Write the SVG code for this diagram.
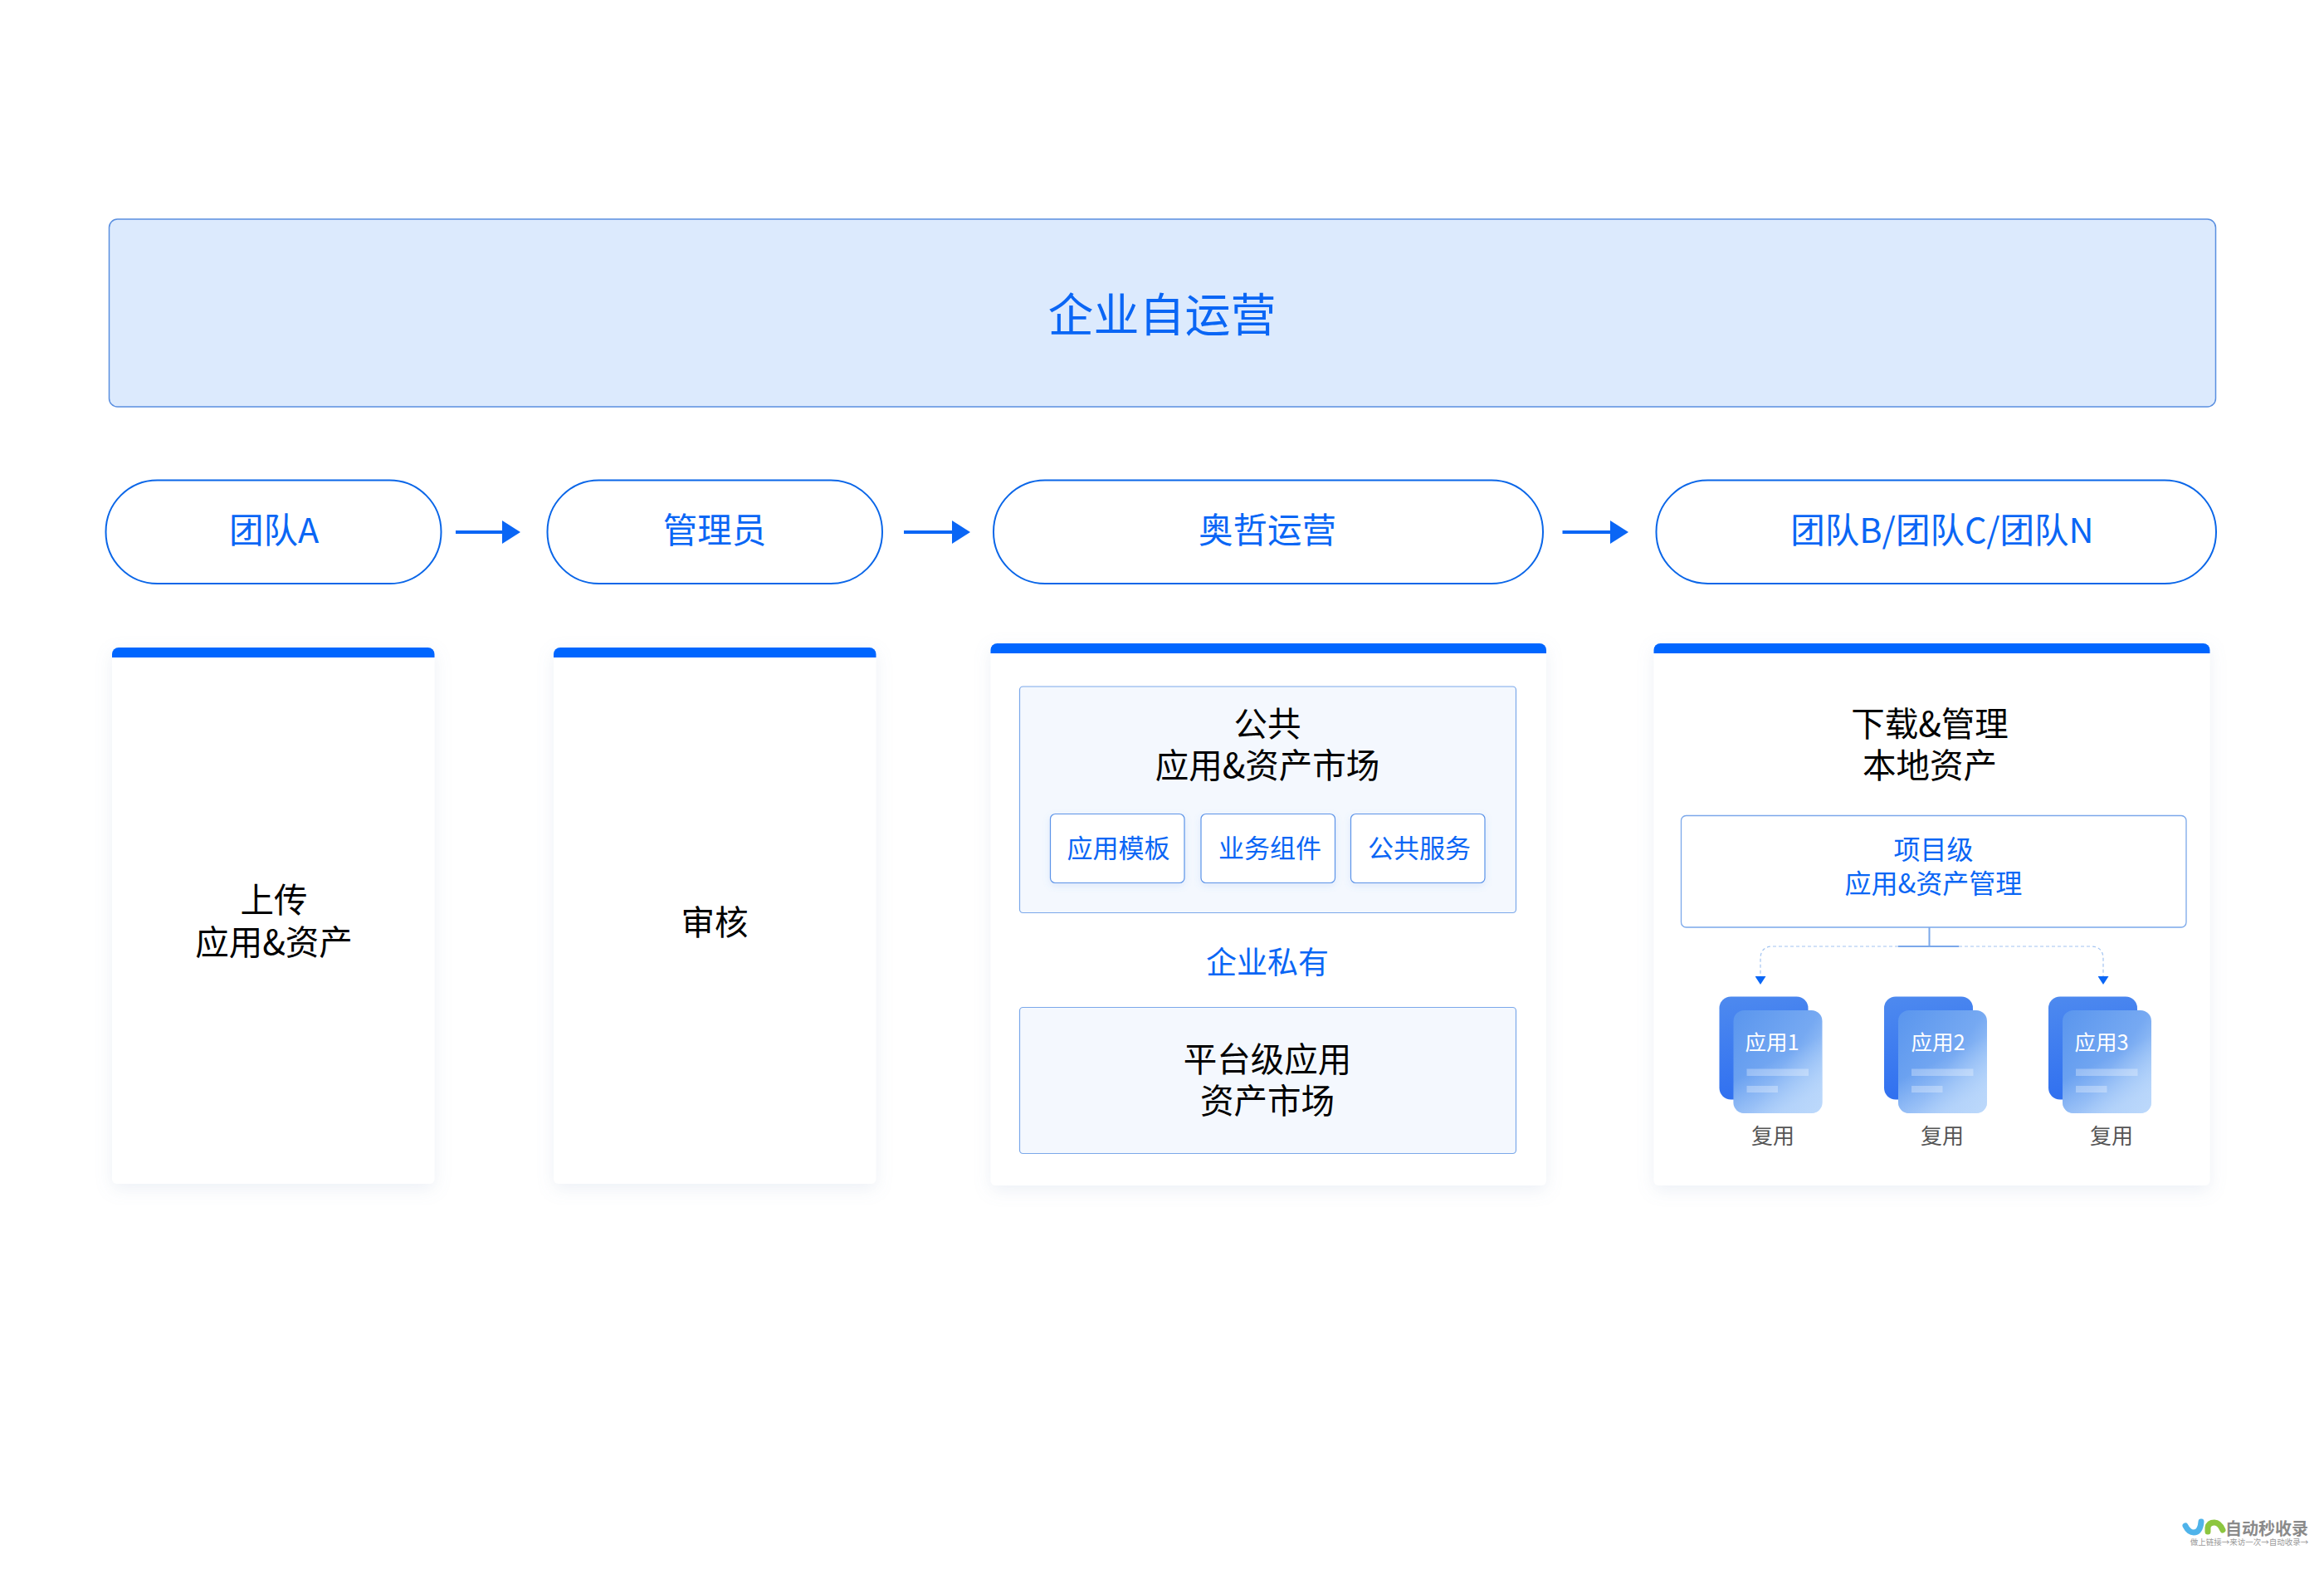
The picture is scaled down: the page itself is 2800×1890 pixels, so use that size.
<svg xmlns="http://www.w3.org/2000/svg" width="2800" height="1890" viewBox="0 0 2800 1890">
<style>
text{font-family:"Noto Sans CJK SC","Noto Sans",sans-serif;text-anchor:middle}
.blue{fill:#0a66f5}
.black{fill:#000}
.f40{font-size:40.500px}
.f42{font-size:41.500px}
.f32{font-size:32px}
.f31{font-size:31px}
.pill{fill:#fff;stroke:#0a66e8;stroke-width:2}
.card{fill:#fff;filter:url(#cardShadow)}
.bar{fill:#0066ff}
.panel{fill:#f4f8fe;stroke:#7ba8ea;stroke-width:1.2}
.chip{fill:#fff;stroke:#5b93e8;stroke-width:1.2;filter:url(#chipShadow)}
.flow{stroke:#0a66f5;stroke-width:4;fill:none;marker-end:url(#arrow)}
.dash{stroke:#a3c4f1;stroke-width:1.2;stroke-dasharray:4 3;fill:none;marker-end:url(#tip)}
.solid{stroke:#7ba8ea;stroke-width:2;fill:none}
.docLabel{font-size:25.500px;fill:#fff}
.reuse{font-size:26px;fill:#555}
</style>
<defs>
<filter id="cardShadow" x="-15%" y="-10%" width="130%" height="120%"><feDropShadow dx="0" dy="6" stdDeviation="10" flood-color="#8fa3c8" flood-opacity="0.16"/></filter>
<filter id="chipShadow" x="-15%" y="-15%" width="130%" height="140%"><feDropShadow dx="0" dy="3" stdDeviation="4" flood-color="#5b93e8" flood-opacity="0.15"/></filter>
<marker id="arrow" markerUnits="userSpaceOnUse" markerWidth="22" markerHeight="28" viewBox="0 0 22 28" refX="0" refY="14" orient="auto"><path d="M0 0L22 14L0 28Z" fill="#0a66f5"/></marker>
<marker id="tip" markerUnits="userSpaceOnUse" markerWidth="10" markerHeight="13" viewBox="0 0 10 13" refX="0" refY="6.500" orient="auto"><path d="M0 0L10 6.500L0 13Z" fill="#0a66f5"/></marker>
<linearGradient id="backGrad" x1="0.2" y1="0" x2="0.4" y2="1"><stop offset="0" stop-color="#4d89ef"/><stop offset="1" stop-color="#2f6ff0"/></linearGradient>
<linearGradient id="frontGrad" x1="0" y1="0.1" x2="1" y2="0.9"><stop offset="0" stop-color="#5c97ee"/><stop offset="0.55" stop-color="#76a9f2"/><stop offset="1" stop-color="#b9d8fb"/></linearGradient>
<linearGradient id="frontGlow" x1="0.3" y1="0.55" x2="0.5" y2="1"><stop offset="0" stop-color="#bcd8fb" stop-opacity="0"/><stop offset="1" stop-color="#bcd8fb" stop-opacity="0.75"/></linearGradient>
<g id="docShape">
<rect x="2071.500" y="1200.500" width="107" height="124" rx="14" fill="url(#backGrad)"/>
<rect x="2088.500" y="1217" width="107" height="124" rx="13" fill="url(#frontGrad)"/>
<rect x="2088.500" y="1217" width="107" height="124" rx="13" fill="url(#frontGlow)"/>
<rect x="2104.500" y="1287.500" width="74.500" height="8.500" fill="#fff" fill-opacity="0.3"/>
<rect x="2104.500" y="1308" width="37.500" height="8" fill="#fff" fill-opacity="0.3"/>
</g>
</defs>
<rect width="2800" height="1890" fill="#fff"/>

<g id="banner">
<rect x="131.500" y="264" width="2538" height="226" rx="10" fill="#dceafd" stroke="#5a8fe0" stroke-width="1.500"/>
<text x="1400" y="399" class="blue" style="font-size:55px">企业自运营</text>
</g>

<g id="pill-a"><rect class="pill" x="127.500" y="578.500" width="404" height="124.500" rx="62"/><text x="330" y="654" class="blue f42">团队A</text></g>
<g id="pill-admin"><rect class="pill" x="659.500" y="578.500" width="403.500" height="124.500" rx="62"/><text x="861" y="654" class="blue f42">管理员</text></g>
<g id="pill-ops"><rect class="pill" x="1197" y="578.500" width="662" height="124.500" rx="62"/><text x="1527" y="654" class="blue f42">奥哲运营</text></g>
<g id="pill-teams"><rect class="pill" x="1995.500" y="578.500" width="674.500" height="124.500" rx="62"/><text x="2340" y="654" class="blue f42">团队B/团队C/团队N</text></g>

<g id="card-upload">
<rect class="card" x="135" y="780" width="388.500" height="646" rx="6"/>
<path class="bar" d="M135 792V788a8 8 0 0 1 8-8H515.500a8 8 0 0 1 8 8V792Z"/>
<text x="330" y="1099" class="black f40">上传</text>
<text x="330" y="1150" class="black f40">应用&amp;资产</text>
</g>
<g id="card-review">
<rect class="card" x="667" y="780" width="388.500" height="646" rx="6"/>
<path class="bar" d="M667 792V788a8 8 0 0 1 8-8H1047.500a8 8 0 0 1 8 8V792Z"/>
<text x="861" y="1126" class="black f40">审核</text>
</g>

<g id="card-ops">
<rect class="card" x="1193.500" y="775" width="669.500" height="653" rx="6"/>
<path class="bar" d="M1193.500 787V783a8 8 0 0 1 8-8H1855a8 8 0 0 1 8 8V787Z"/>
</g>
<g id="public-market">
<rect class="panel" x="1228.500" y="827" width="598" height="272.500" rx="4"/>
<text x="1527" y="887" class="black f40">公共</text>
<text x="1527" y="937" class="black f40">应用&amp;资产市场</text>
</g>
<g id="chip-template"><rect class="chip" x="1265.500" y="980.500" width="161.500" height="83" rx="6"/><text x="1347.500" y="1033" class="blue f31">应用模板</text></g>
<g id="chip-component"><rect class="chip" x="1447" y="980.500" width="161.500" height="83" rx="6"/><text x="1530" y="1033" class="blue f31">业务组件</text></g>
<g id="chip-service"><rect class="chip" x="1627.500" y="980.500" width="161.500" height="83" rx="6"/><text x="1710" y="1033" class="blue f31">公共服务</text></g>
<g id="private-label"><text x="1527" y="1172.500" class="blue" style="font-size:37px">企业私有</text></g>
<g id="private-market">
<rect class="panel" x="1228.500" y="1213.500" width="598" height="176" rx="4"/>
<text x="1527" y="1291" class="black f40">平台级应用</text>
<text x="1527" y="1341" class="black f40">资产市场</text>
</g>

<g id="card-teams">
<rect class="card" x="1992.500" y="775" width="670" height="653" rx="6"/>
<path class="bar" d="M1992.500 787V783a8 8 0 0 1 8-8H2654.500a8 8 0 0 1 8 8V787Z"/>
<text x="2325" y="887" class="black f40">下载&amp;管理</text>
<text x="2325" y="937" class="black f40">本地资产</text>
</g>
<g id="project-box">
<rect x="2025.500" y="982.500" width="608.500" height="134.500" rx="6" fill="#fff" stroke="#7ba8ea" stroke-width="1.300"/>
<text x="2329.500" y="1035" class="blue f32">项目级</text>
<text x="2329.500" y="1075.500" class="blue f32">应用&amp;资产管理</text>
</g>

<g id="doc-1"><use href="#docShape"/><text x="2135" y="1265" class="docLabel">应用1</text><text x="2136" y="1378" class="reuse">复用</text></g>
<g id="doc-2"><use href="#docShape" x="198.500"/><text x="2335" y="1265" class="docLabel">应用2</text><text x="2340" y="1378" class="reuse">复用</text></g>
<g id="doc-3"><use href="#docShape" x="396.500"/><text x="2532" y="1265" class="docLabel">应用3</text><text x="2544" y="1378" class="reuse">复用</text></g>

<g id="connectors">
<path class="flow" d="M549 641H605"/>
<path class="flow" d="M1089 641H1147"/>
<path class="flow" d="M1882.500 641H1940"/>
<path class="solid" d="M2324.500 1117V1140M2287 1140H2360"/>
<path class="dash" d="M2287 1140H2136Q2121 1140 2121 1155V1176"/>
<path class="dash" d="M2360 1140H2519Q2534 1140 2534 1155V1176"/>
</g>

<g id="watermark">
<path d="M2633 1838Q2637 1846 2643 1846Q2651 1846 2652 1833" fill="none" stroke="#4fb3ea" stroke-width="7" stroke-linecap="round"/>
<path d="M2660 1845V1840Q2661 1834 2668 1834Q2674 1834 2678 1843" fill="none" stroke="#8cc63f" stroke-width="7" stroke-linecap="round"/>
<text x="2731" y="1849" style="font-size:20px;font-weight:700" fill="#8a8a8a">自动秒收录</text>
<text x="2710" y="1861" style="font-size:9.500px" fill="#9a9a9a">做上链接→来访一次→自动收录→</text>
</g>
</svg>
